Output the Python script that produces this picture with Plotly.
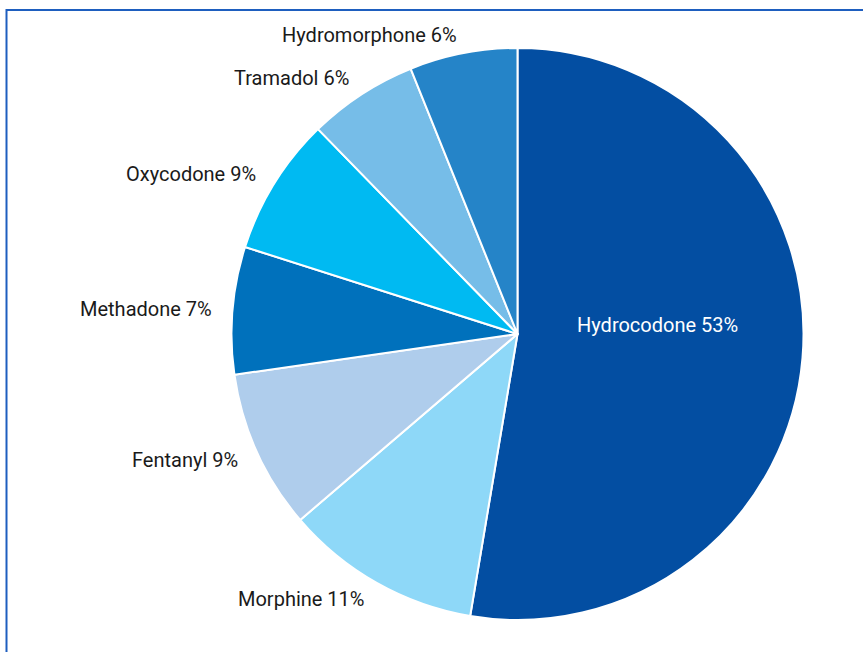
import math
import plotly.graph_objects as go

labels = ["Hydrocodone", "Morphine", "Fentanyl", "Methadone", "Oxycodone", "Tramadol", "Hydromorphone"]
shares = [52.7, 11.1, 9.0, 7.2, 7.8, 6.2, 6.1]          # slice sizes
label_pct = [53, 11, 9, 7, 9, 6, 6]                      # percentages printed on the chart
colors = ["#034EA2", "#8ED8F8", "#AFCDEC", "#0071BC", "#00BAF2", "#76BDE8", "#2584C8"]

W, H = 863, 652
cx, cy, r = 517.5, 334, 286
FONT = "Roboto, Liberation Sans, sans-serif"

fig = go.Figure(go.Pie(
    labels=labels,
    values=shares,
    sort=False,
    direction="clockwise",
    rotation=0,
    marker=dict(colors=colors, line=dict(color="white", width=2)),
    textinfo="none",
    hoverinfo="label+percent",
    showlegend=False,
    domain=dict(x=[(cx - r) / W, (cx + r) / W], y=[1 - (cy + r) / H, 1 - (cy - r) / H]),
))

# label placement derived from slice mid-angles
total = sum(shares)
cum = 0.0
for lab, s, pct in zip(labels, shares, label_pct):
    mid = (cum + s / 2) / total * 2 * math.pi
    cum += s
    text = f"{lab} {pct}%"
    if lab == "Hydrocodone":
        R = 140
        px, py = cx + R * math.sin(mid), cy - R * math.cos(mid)
        fig.add_annotation(x=px / W, y=1 - py / H, xref="paper", yref="paper", text=text,
                           showarrow=False, xanchor="center", yanchor="middle", yshift=21,
                           font=dict(family=FONT, size=20, color="white"))
    else:
        R = 305
        px, py = cx + R * math.sin(mid), cy - R * math.cos(mid)
        fig.add_annotation(x=px / W, y=1 - py / H, xref="paper", yref="paper", text=text,
                           showarrow=False,
                           xanchor="right" if math.sin(mid) < 0 else "left", yanchor="middle",
                           font=dict(family=FONT, size=20, color="#1a1a1a"))

fig.add_shape(type="rect", xref="paper", yref="paper",
              x0=6.5 / W, x1=1.05, y0=-0.05, y1=1 - 10 / H,
              line=dict(color="#1E5EBF", width=2), fillcolor="rgba(0,0,0,0)")

fig.update_layout(width=W, height=H, margin=dict(l=0, r=0, t=0, b=0),
                  paper_bgcolor="white", plot_bgcolor="white",
                  font=dict(family=FONT, size=20))

fig.write_html("out.html", config={"displayModeBar": False},
               post_script="document.body.style.margin='0';")
